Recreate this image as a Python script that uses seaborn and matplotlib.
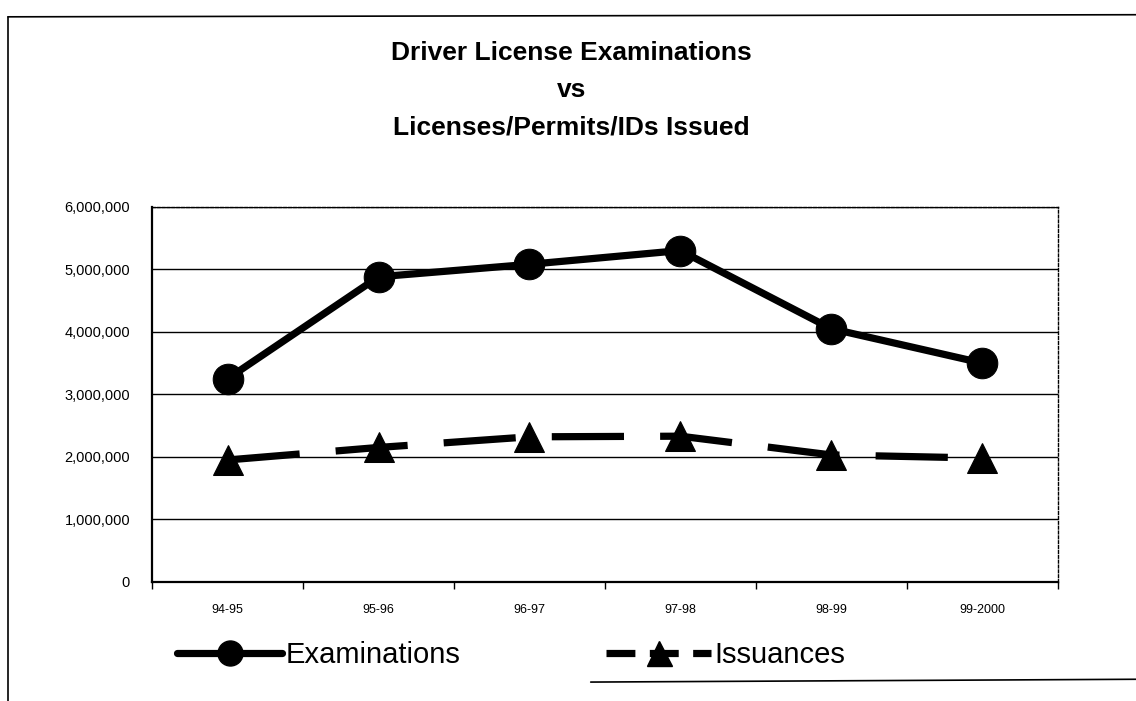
import matplotlib
matplotlib.use("Agg")
import matplotlib.pyplot as plt
from matplotlib.lines import Line2D
from matplotlib.ticker import FuncFormatter, FixedLocator
import seaborn as sns
import pandas as pd

# Fiscal-year periods and yearly totals
periods = ["94-95", "95-96", "96-97", "97-98", "98-99", "99-2000"]
examinations = [3250000, 4880000, 5080000, 5300000, 4050000, 3500000]
issuances = [1950000, 2150000, 2320000, 2330000, 2030000, 1980000]

title_lines = ["Driver License Examinations", "vs", "Licenses/Permits/IDs Issued"]
y_ticks = [0, 1000000, 2000000, 3000000, 4000000, 5000000, 6000000]

sns.set_theme(style="white")
plt.rcParams["font.family"] = ["Liberation Sans", "DejaVu Sans"]
plt.rcParams.update({"text.color": "black", "axes.labelcolor": "black",
                     "xtick.color": "black", "ytick.color": "black"})

df = pd.DataFrame({"period": periods, "Examinations": examinations,
                   "Issuances": issuances})
df["pos"] = range(len(periods))

fig = plt.figure(figsize=(11.36, 7.01), dpi=100)
ax = fig.add_axes([0.134, 0.170, 0.797, 0.535])

sns.lineplot(data=df, x="pos", y="Examinations", ax=ax, color="black",
             linewidth=5.2, marker="o", markersize=22, markeredgecolor="black",
             sort=False)
sns.lineplot(data=df, x="pos", y="Issuances", ax=ax, color="black",
             linewidth=5.2, marker="^", markersize=22, markeredgecolor="black",
             dashes=False, sort=False)
ax.lines[-1].set_dashes([10, 5])

ax.set_xlim(-0.5, len(periods) - 0.5)
ax.set_ylim(0, 6000000)
ax.set_xlabel("")
ax.set_ylabel("")

ax.set_xticks(range(len(periods)))
ax.set_xticklabels(periods, fontsize=9, color="black")
ax.xaxis.set_minor_locator(FixedLocator([i + 0.5 for i in range(-1, len(periods))]))
ax.tick_params(axis="x", which="major", length=0, pad=16, labelcolor="black")
ax.tick_params(axis="x", which="minor", length=5, width=1, color="black",
               direction="out", bottom=True)

ax.set_yticks(y_ticks)
ax.yaxis.set_major_formatter(FuncFormatter(lambda v, _: f"{int(v):,}"))
ax.tick_params(axis="y", length=0, pad=16, labelsize=10.5, labelcolor="black")

ax.yaxis.grid(True, color="black", linewidth=1.0)
ax.set_axisbelow(True)

for side in ("left", "bottom"):
    ax.spines[side].set_color("black")
    ax.spines[side].set_linewidth(1.6)
for side in ("top", "right"):
    ax.spines[side].set_color("black")
    ax.spines[side].set_linewidth(1.0)
    ax.spines[side].set_linestyle((0, (2, 1.5)))

# Three-line heading
for txt, y in zip(title_lines, [0.925, 0.872, 0.818]):
    fig.text(0.503, y, txt, ha="center", va="center", fontsize=19,
             fontweight="bold", color="black")

# Legend below the plot
handles = [
    Line2D([], [], color="black", linewidth=5.2, marker="o", markersize=18),
    Line2D([], [], color="black", linewidth=5.2, marker="^", markersize=18,
           dashes=[4, 2]),
]
leg = fig.legend(handles, ["Examinations", "Issuances"], loc="center",
                 bbox_to_anchor=(0.45, 0.066), ncol=2, frameon=False,
                 handlelength=3.6, handletextpad=0.1, columnspacing=5.0,
                 prop={"size": 21})
for t in leg.get_texts():
    t.set_color("black")

# Page frame lines around the chart
fig.add_artist(Line2D([0.007, 1.0], [0.976, 0.979], color="black", linewidth=1.2,
                      transform=fig.transFigure))
fig.add_artist(Line2D([0.007, 0.007], [0.976, 0.0], color="black", linewidth=1.2,
                      transform=fig.transFigure))
fig.add_artist(Line2D([0.52, 1.0], [0.027, 0.031], color="black", linewidth=1.2,
                      transform=fig.transFigure))

fig.savefig("out.png", dpi=100, facecolor="white")
